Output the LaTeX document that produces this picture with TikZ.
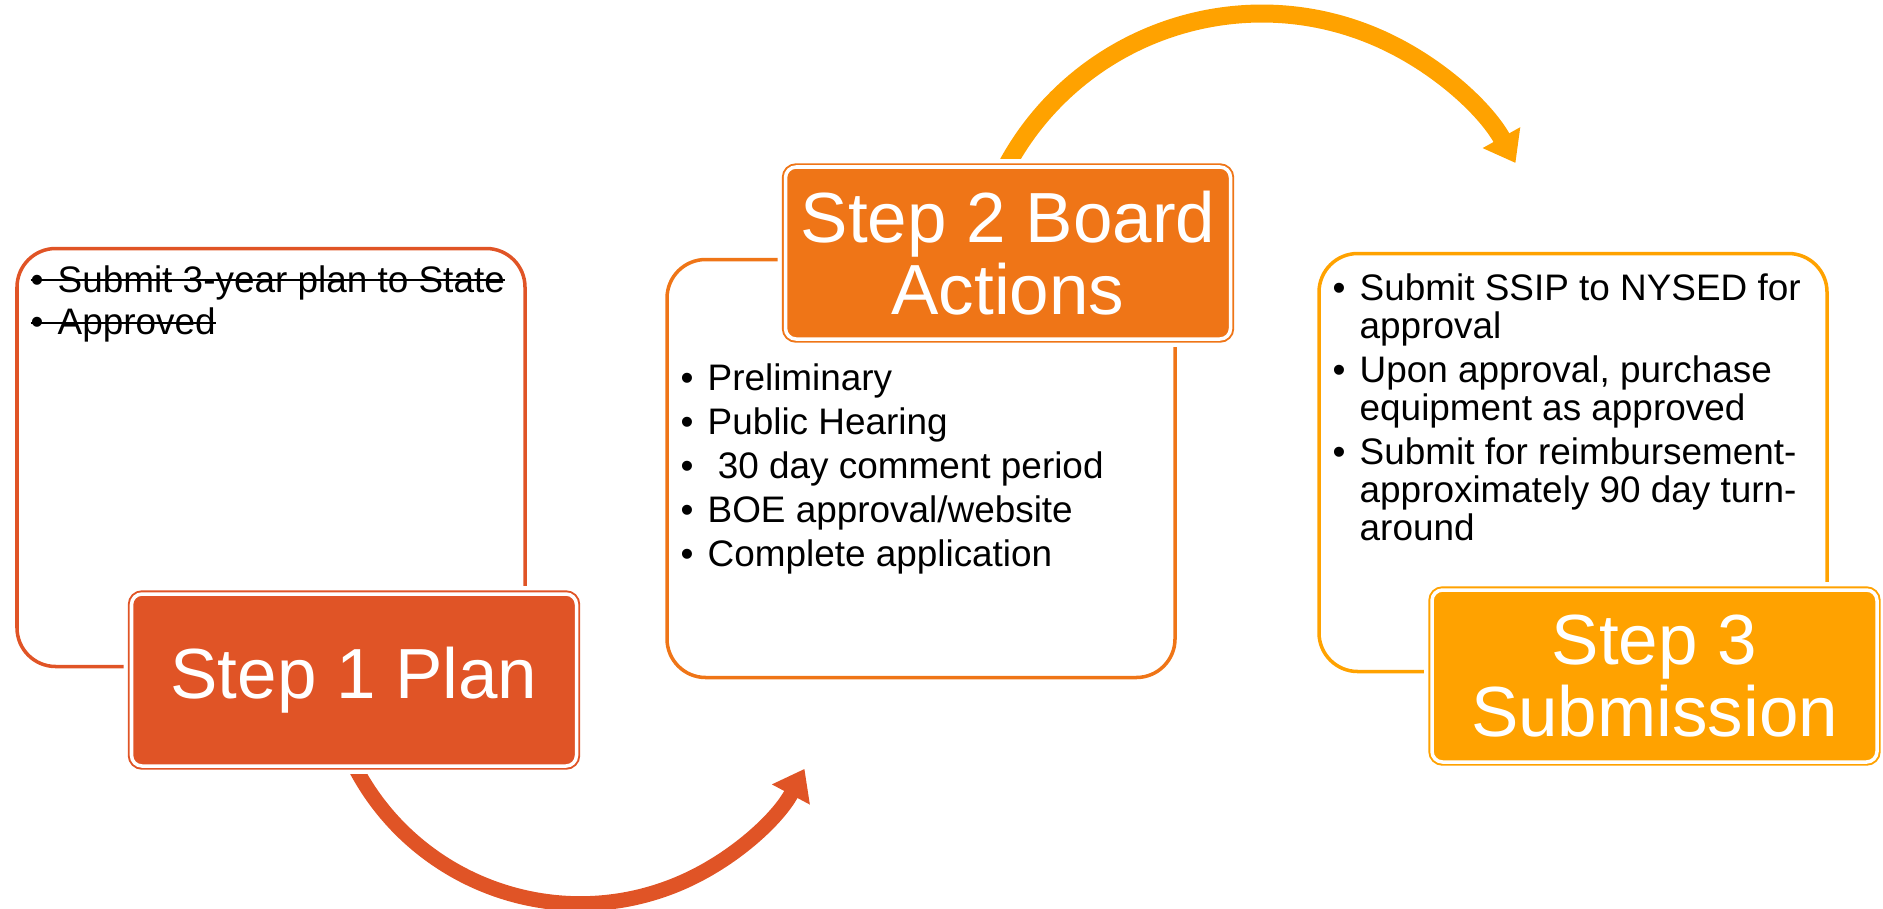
\documentclass[tikz,border=0pt]{standalone}
\usepackage{fontspec}
\setmainfont{Liberation Sans}
\usetikzlibrary{arrows.meta}
\usetikzlibrary{backgrounds}
\definecolor{planred}{RGB}{224,84,38}
\definecolor{boardorange}{RGB}{239,117,23}
\definecolor{submitgold}{RGB}{255,162,0}
\newcommand{\listfont}{\fontsize{10.5}{10.8}\selectfont}
\newcommand{\stepfont}{\fontsize{20.2}{20.5}\selectfont}
\newcommand{\struck}[1]{\setbox0=\hbox{#1}\rlap{\rule[3pt]{\wd0}{0.6pt}}\box0}
\tikzset{
  panel/.style={draw=#1, line width=1pt, rounded corners=11pt, minimum width=5.08cm, minimum height=4.18cm, inner sep=0pt},
  stepbox/.style={fill=#1, draw=#1, line width=0.55pt, double=white, double distance=1pt, rounded corners=3pt,
    minimum width=4.45cm, minimum height=1.72cm, inner sep=0pt, text=white, font=\stepfont, align=center,
    preaction={draw=white, line width=4.5pt}},
  listtext/.style={anchor=base west, inner sep=0pt, font=\listfont},
  bigarrow/.style 2 args={draw=#1, line width=#2, -{Triangle[length=2.9mm,width=4.1mm]}}
}

\begin{document}
\begin{tikzpicture}[scale=1]
\useasboundingbox (0,0) rectangle (18.83,9.08);
% outlined panels
\node[panel=planred] (p1) at (2.71,4.505) {};
\node[panel=boardorange] (p2) at (9.21,4.395) {};
\node[panel=submitgold] (p3) at (15.73,4.455) {};
% step labels
\node[stepbox=planred] (s1) at (3.54,2.28) {Step 1 Plan};
\node[stepbox=boardorange] (s2) at (10.08,6.55) {Step 2 Board\\Actions};
\node[stepbox=submitgold] (s3) at (16.545,2.32) {Step 3\\Submission};
% lists
\node[listtext] (t1) at (0.30,6.16) {\begin{tabular}[t]{@{}l@{}}
  \struck{\textbullet\hspace{4pt}Submit 3-year plan to State}\\[1.2pt]
  \struck{\textbullet\hspace{4pt}Approved}
\end{tabular}};
\node[listtext] (t2) at (6.80,5.18) {\begin{tabular}[t]{@{}l@{\hspace{4pt}}l@{}}
  \textbullet & Preliminary\\[1.7pt]
  \textbullet & Public Hearing\\[1.7pt]
  \textbullet & \ 30 day comment period\\[1.7pt]
  \textbullet & BOE approval/website\\[1.7pt]
  \textbullet & Complete application
\end{tabular}};
\node[listtext] (t3) at (13.32,6.08) {\begin{tabular}[t]{@{}l@{\hspace{4pt}}l@{}}
  \textbullet & Submit SSIP to NYSED for\\
              & approval\\[1.7pt]
  \textbullet & Upon approval, purchase\\
              & equipment as approved\\[1.7pt]
  \textbullet & Submit for reimbursement-\\
              & approximately 90 day turn-\\
              & around
\end{tabular}};
% curved arrows behind the steps
\begin{scope}[on background layer]
\draw[bigarrow={planred}{0.15cm}] (s1.south) ++(-0.04,0.10) arc[start angle=205, end angle=332, radius=2.54];
\draw[bigarrow={submitgold}{0.18cm}] (s2.north) ++(-0.09,-0.15) arc[start angle=155, end angle=29, radius=2.90];
\end{scope}
\end{tikzpicture}
\end{document}
